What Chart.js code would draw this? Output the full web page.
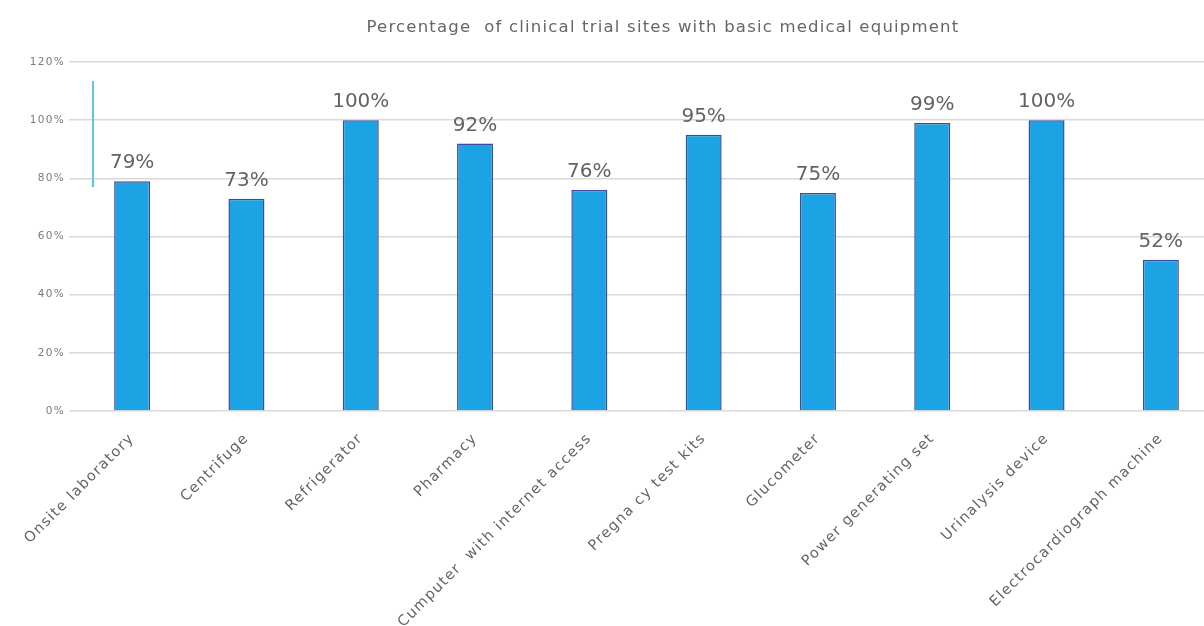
<!DOCTYPE html>
<html>
<head>
<meta charset="utf-8">
<script src="https://cdn.jsdelivr.net/npm/chart.js@4/dist/chart.umd.min.js"></script>
<style>
html,body{margin:0;padding:0;background:#fff;overflow:hidden;width:1204px;height:626px;}
#wrap{position:absolute;left:0;top:0;width:1218px;height:626px;}
</style>
</head>
<body>
<div id="wrap"><canvas id="c" width="1218" height="626"></canvas></div>
<script>
const chartTitle = "Percentage  of clinical trial sites with basic medical equipment";
const categories = ["Onsite laboratory","Centrifuge","Refrigerator","Pharmacy","Cumputer  with internet access","Pregna cy test kits","Glucometer","Power generating set","Urinalysis device","Electrocardiograph machine"];
const percentages = [79, 73, 100, 92, 76, 95, 75, 99, 100, 52];
const yTicks = [0, 20, 40, 60, 80, 100, 120];

const FONT = "'DejaVu Sans', sans-serif";
const GREY = "#636363";

const spacing = {
  id: 'spacing',
  beforeUpdate(chart) { chart.ctx.letterSpacing = '1.3px'; },
  beforeDraw(chart) { chart.ctx.letterSpacing = '1.3px'; }
};

const extras = {
  id: 'extras',
  afterDatasetsDraw(chart) {
    const ctx = chart.ctx;
    const meta = chart.getDatasetMeta(0);
    ctx.save();
    ctx.letterSpacing = '0px';
    ctx.fillStyle = GREY;
    ctx.font = "20px " + FONT;
    ctx.textAlign = 'center';
    ctx.textBaseline = 'bottom';
    meta.data.forEach((bar, i) => {
      ctx.fillText(percentages[i] + '%', bar.x, bar.y - 8);
    });
    // title
    ctx.letterSpacing = '1.2px';
    ctx.font = "16.5px " + FONT;
    ctx.fillStyle = "#666";
    ctx.textBaseline = 'middle';
    ctx.fillText(chartTitle, 663, 28);
    // decorative cyan marker line
    const ys = chart.scales.y;
    const x = chart.chartArea.left + 18;
    ctx.strokeStyle = "#5cc6e3";
    ctx.lineWidth = 2;
    ctx.beginPath();
    ctx.moveTo(x, ys.getPixelForValue(113.5));
    ctx.lineTo(x, ys.getPixelForValue(77));
    ctx.stroke();
    ctx.restore();
  }
};

new Chart(document.getElementById('c'), {
  type: 'bar',
  data: {
    labels: categories,
    datasets: [{
      data: percentages,
      backgroundColor: '#1ba3e3',
      borderColor: '#3a4c9e',
      borderWidth: 1.5,
      categoryPercentage: 1,
      barPercentage: 0.315
    }]
  },
  options: {
    responsive: false,
    animation: false,
    layout: { padding: { top: 62, left: 0, right: 0, bottom: 0 } },
    plugins: { legend: { display: false }, tooltip: { enabled: false }, title: { display: false } },
    scales: {
      x: {
        grid: { display: false },
        border: { display: false },
        ticks: {
          color: GREY,
          font: { family: FONT, size: 14.5 },
          maxRotation: 45, minRotation: 45,
          autoSkip: false,
          padding: 11
        },
        afterFit(s) { s.height = 215; }
      },
      y: {
        min: 0, max: 120,
        afterBuildTicks(s) { s.ticks = yTicks.map(v => ({ value: v })); },
        grid: { color: '#d9d9d9', lineWidth: 1.5, tickLength: 6, tickColor: '#d9d9d9' },
        border: { display: false },
        ticks: {
          color: '#7a7a7a',
          font: { family: FONT, size: 10.5 },
          padding: 4,
          callback: v => v + '%'
        },
        afterFit(s) { s.width = 75; }
      }
    }
  },
  plugins: [spacing, extras]
});
</script>
</body>
</html>
